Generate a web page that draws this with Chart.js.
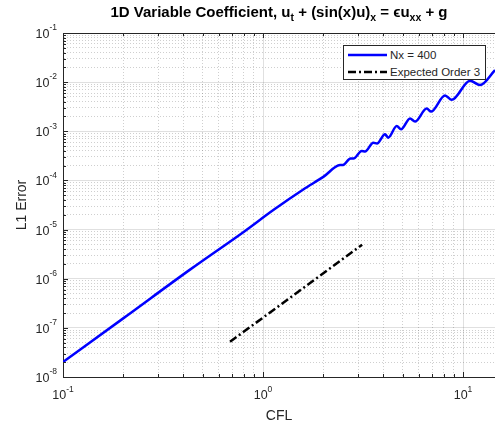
<!DOCTYPE html>
<html>
<head>
<meta charset="utf-8">
<script src="https://cdn.jsdelivr.net/npm/chart.js@4.4.1/dist/chart.umd.min.js"></script>
<style>
  body { margin: 0; background: #fff; }
  #wrap { position: relative; width: 495px; height: 423px; font-family: "Liberation Sans", Arial, sans-serif; color: #262626; }
  #title { position: absolute; left: 63px; width: 432px; top: 4px; line-height: 16px; text-align: center; font-weight: bold; font-size: 15px; color: #000; white-space: nowrap; }
  #title sub { font-size: 10.5px; vertical-align: -4px; line-height: 0; }
  #legend { position: absolute; left: 343px; top: 45px; width: 141px; height: 33px; border: 1px solid #262626; background: #fff; font-size: 11.5px; }
  .row { position: absolute; left: 4px; height: 16px; display: flex; align-items: center; white-space: nowrap; }
  .row svg { margin-right: 3px; }
</style>
</head>
<body>
<div id="wrap">
  <canvas id="c" width="495" height="423"></canvas>
  <div id="title">1D Variable Coefficient, u<sub>t</sub> + (sin(x)u)<sub>x</sub> = &#x3F5;u<sub>xx</sub> + g</div>
  <div id="legend">
    <div class="row" style="top:1px"><svg width="39" height="6"><line x1="0" y1="3" x2="39" y2="3" stroke="#0000ff" stroke-width="2.5"/></svg>Nx = 400</div>
    <div class="row" style="top:18px"><svg width="39" height="6"><line x1="0" y1="3" x2="39" y2="3" stroke="#000" stroke-width="2.5" stroke-dasharray="8,3,2,3"/></svg>Expected Order 3</div>
  </div>
</div>
<script>
// Nx = 400 run
const cflNx400 = [0.1, 0.2, 0.4315, 0.813, 1.126, 1.59, 2.002, 2.427, 2.512, 2.738, 2.835,
  3.116, 3.236, 3.561, 3.715, 4.074, 4.232, 4.661, 4.898, 5.433, 5.754,
  6.585, 6.918, 8.128, 8.779, 10.84, 12.16, 14.45];
const errNx400 = [2.02e-8, 1.56e-7, 1.53e-6, 9.4e-6, 2.5e-5, 6.55e-5, 1.18e-4, 2.05e-4, 2.06e-4, 2.8e-4, 2.79e-4,
  3.96e-4, 3.88e-4, 5.87e-4, 5.65e-4, 8.69e-4, 7.43e-4, 1.28e-3, 1.10e-3, 1.82e-3, 1.58e-3,
  2.90e-3, 2.52e-3, 5.36e-3, 4.36e-3, 1.07e-2, 8.77e-3, 1.76e-2];

// reference slope line
const cflOrder3 = [0.684, 3.13];
const errOrder3 = [5.2e-8, 4.9e-6];

const xTickExponents = [-1, 0, 1];
const yTickExponents = [-8, -7, -6, -5, -4, -3, -2, -1];

const TEXT = '#262626';
const FONT = '"Liberation Sans", Arial, sans-serif';

function decadeTicks(exps, max) {
  const out = [];
  exps.forEach(e => {
    for (let m = 1; m <= 9; m++) {
      const v = Number(m + 'e' + e);
      if (v <= max * 1.0001) out.push({ value: v, major: m === 1 });
    }
  });
  return out;
}

const axesDecor = {
  id: 'axesDecor',
  afterDraw(chart) {
    const { ctx, chartArea: a, scales: { x, y } } = chart;
    ctx.save();
    ctx.strokeStyle = TEXT;
    ctx.lineWidth = 1;
    // top edge of the box
    ctx.beginPath();
    ctx.moveTo(a.left, a.top + 0.5);
    ctx.lineTo(a.right, a.top + 0.5);
    ctx.stroke();
    // inward tick marks
    ctx.beginPath();
    x.ticks.forEach(t => {
      const px = Math.round(x.getPixelForValue(t.value)) + 0.5;
      const len = t.major ? 5 : 3;
      ctx.moveTo(px, a.bottom); ctx.lineTo(px, a.bottom - len);
      ctx.moveTo(px, a.top); ctx.lineTo(px, a.top + len);
    });
    y.ticks.forEach(t => {
      const py = Math.round(y.getPixelForValue(t.value)) + 0.5;
      const len = t.major ? 5 : 3;
      ctx.moveTo(a.left, py); ctx.lineTo(a.left + len, py);
    });
    ctx.stroke();

    // tick labels 10^n
    ctx.fillStyle = TEXT;
    ctx.textBaseline = 'middle';
    const baseFont = '12.5px ' + FONT;
    const supFont = '8.5px ' + FONT;
    yTickExponents.forEach(e => {
      const py = y.getPixelForValue(Math.pow(10, e));
      const sup = String(e);
      ctx.font = supFont;
      const sw = ctx.measureText(sup).width;
      ctx.textAlign = 'right';
      ctx.fillText(sup, 57, py - 5);
      ctx.font = baseFont;
      ctx.fillText('10', 57 - sw, py + 1.5);
    });
    xTickExponents.forEach(e => {
      const px = x.getPixelForValue(Math.pow(10, e));
      const sup = String(e);
      ctx.font = supFont;
      const sw = ctx.measureText(sup).width;
      ctx.font = baseFont;
      const bw = ctx.measureText('10').width;
      const left = px - (bw + sw) / 2;
      ctx.textAlign = 'left';
      ctx.fillText('10', left, 396);
      ctx.font = supFont;
      ctx.fillText(sup, left + bw, 390);
    });
    ctx.restore();
  }
};

const gridOpts = {
  color: c => (c.tick && c.tick.major) ? 'rgba(38,38,38,0.14)' : 'rgba(38,38,38,0.22)',
  lineWidth: 1,
  drawTicks: false
};
const borderOpts = {
  display: true,
  color: TEXT,
  width: 1,
  dash: c => (c.tick && !c.tick.major) ? [1, 2] : []
};

new Chart(document.getElementById('c'), {
  type: 'line',
  data: {
    datasets: [
      {
        label: 'Nx = 400',
        data: cflNx400.map((v, i) => ({ x: v, y: errNx400[i] })),
        borderColor: '#0000ff',
        borderWidth: 2.5,
        pointRadius: 0,
        cubicInterpolationMode: 'monotone'
      },
      {
        label: 'Expected Order 3',
        data: cflOrder3.map((v, i) => ({ x: v, y: errOrder3[i] })),
        borderColor: '#000000',
        borderWidth: 2.5,
        borderDash: [8, 3, 2, 3],
        pointRadius: 0
      }
    ]
  },
  options: {
    responsive: false,
    animation: false,
    layout: { padding: { top: 33, right: 0, left: 0, bottom: 0 } },
    plugins: { legend: { display: false }, title: { display: false }, tooltip: { enabled: false } },
    scales: {
      x: {
        type: 'logarithmic',
        min: 0.1,
        max: 14.45,
        afterBuildTicks: s => { s.ticks = decadeTicks(xTickExponents, 14.45); },
        afterFit: s => { s.height = 46; },
        ticks: { display: false },
        grid: gridOpts,
        border: borderOpts,
        title: { display: true, text: 'CFL', color: TEXT, font: { family: FONT, size: 14, lineHeight: 1 }, padding: { top: 0, bottom: 0 } }
      },
      y: {
        type: 'logarithmic',
        min: 1e-8,
        max: 1e-1,
        afterBuildTicks: s => { s.ticks = decadeTicks(yTickExponents, 0.1); },
        afterFit: s => { s.width = 63; },
        ticks: { display: false },
        grid: gridOpts,
        border: borderOpts,
        title: { display: true, text: 'L1 Error', color: TEXT, font: { family: FONT, size: 14, lineHeight: 1 }, padding: { top: 15, bottom: 0 } }
      }
    }
  },
  plugins: [axesDecor]
});
</script>
</body>
</html>
